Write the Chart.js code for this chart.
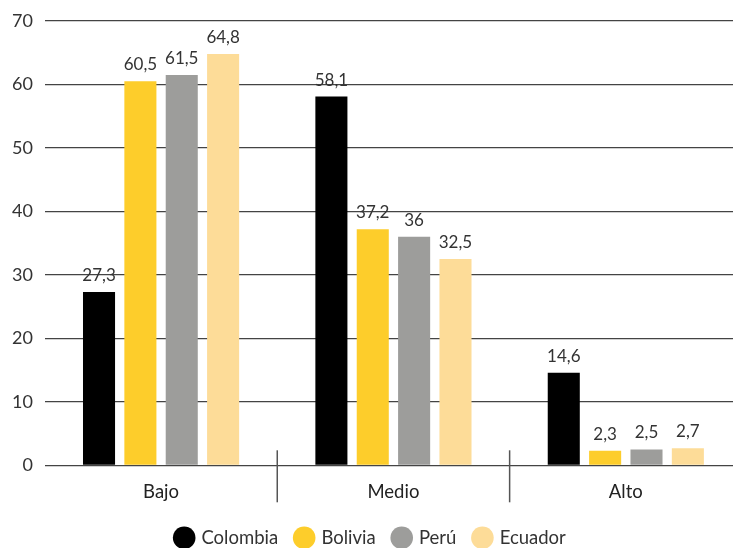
<!DOCTYPE html>
<html>
<head>
<meta charset="utf-8">
<script src="https://cdn.jsdelivr.net/npm/chart.js@4/dist/chart.umd.min.js"></script>
<style>
  html, body { margin: 0; padding: 0; background: #fff; overflow: hidden; }
  #wrap { width: 742px; height: 548px; }
</style>
</head>
<body>
<div id="wrap"><canvas id="myChart"></canvas></div>
<script>
// niveles y porcentajes por país
var niveles = ['Bajo', 'Medio', 'Alto'];
var colombia = [27.3, 58.1, 14.6];
var bolivia = [60.5, 37.2, 2.3];
var peru = [61.5, 36, 2.5];
var ecuador = [64.8, 32.5, 2.7];
var yTicks = [0, 10, 20, 30, 40, 50, 60, 70];

var fuente = 'Lato, "Open Sans", sans-serif';

// valores encima de cada barra
var etiquetas = {
    id: 'etiquetas',
    afterDatasetsDraw: function(chart) {
        var ctx = chart.ctx;
        ctx.save();
        ctx.font = '17px ' + fuente;
        ctx.fillStyle = '#333';
        ctx.textAlign = 'center';
        ctx.textBaseline = 'bottom';
        chart.data.datasets.forEach(function(ds, i) {
            chart.getDatasetMeta(i).data.forEach(function(bar, j) {
                var txt = String(ds.data[j]).replace('.', ',');
                ctx.fillText(txt, bar.x, bar.y - 8);
            });
        });
        ctx.restore();
    }
};

// separadores cortos entre categorías
var separadores = {
    id: 'separadores',
    afterDraw: function(chart) {
        var x = chart.scales.x;
        var ctx = chart.ctx;
        ctx.save();
        ctx.strokeStyle = '#555';
        ctx.lineWidth = 1.5;
        for (var i = 1; i < niveles.length; i++) {
            var px = (x.getPixelForTick(i - 1) + x.getPixelForTick(i)) / 2;
            ctx.beginPath();
            ctx.moveTo(px, x.top - 15);
            ctx.lineTo(px, x.top + 37);
            ctx.stroke();
        }
        ctx.restore();
    }
};

function serie(label, data, color) {
    return {
        label: label,
        data: data,
        backgroundColor: color,
        borderWidth: 0,
        categoryPercentage: 0.712,
        barPercentage: 0.775
    };
}

new Chart(document.getElementById('myChart').getContext('2d'), {
    type: 'bar',
    data: {
        labels: niveles,
        datasets: [
            serie('Colombia', colombia, '#000000'),
            serie('Bolivia', bolivia, '#FDCD2B'),
            serie('Perú', peru, '#9D9D9B'),
            serie('Ecuador', ecuador, '#FDDC98')
        ]
    },
    options: {
        responsive: true,
        maintainAspectRatio: false,
        animation: false,
        layout: { padding: { top: -3, left: 0, right: 0, bottom: -9 } },
        plugins: {
            tooltip: { enabled: false },
            legend: {
                position: 'bottom',
                labels: {
                    usePointStyle: true,
                    pointStyle: 'circle',
                    boxWidth: 16,
                    boxHeight: 16,
                    padding: 18,
                    color: '#333',
                    font: { family: fuente, size: 18.5 }
                }
            }
        },
        scales: {
            x: {
                grid: { display: false },
                border: { display: false },
                afterFit: function(axis) { axis.height -= 1; },
                ticks: {
                    color: '#222',
                    padding: 8,
                    font: { family: fuente, size: 18.5 }
                }
            },
            y: {
                min: 0,
                max: 70,
                afterBuildTicks: function(axis) {
                    axis.ticks = yTicks.map(function(v) { return { value: v }; });
                },
                grid: { color: '#444', lineWidth: 1.2, drawTicks: false },
                border: { display: false },
                ticks: {
                    color: '#333',
                    padding: 12,
                    font: { family: fuente, size: 18, lineHeight: 1 }
                }
            }
        }
    },
    plugins: [etiquetas, separadores]
});
</script>
</body>
</html>
